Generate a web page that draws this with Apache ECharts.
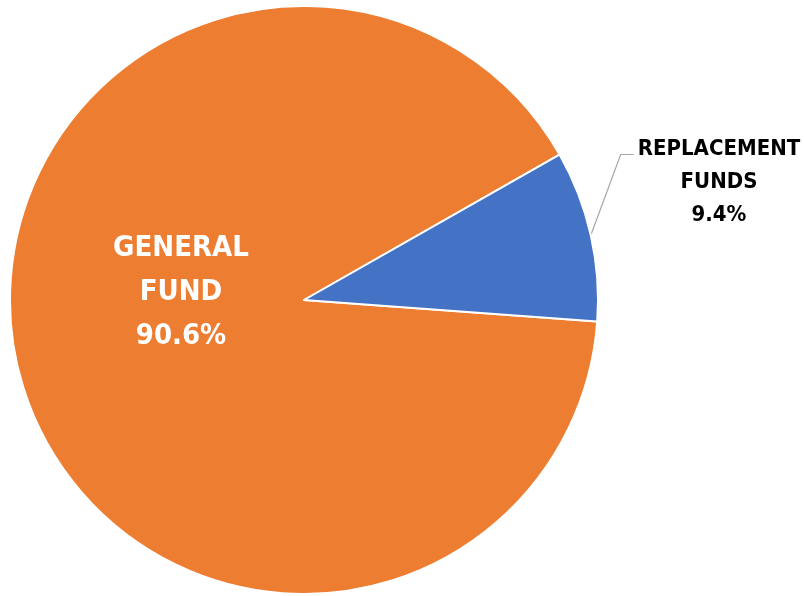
<!DOCTYPE html>
<html>
<head>
<meta charset="utf-8">
<script src="https://cdn.jsdelivr.net/npm/echarts@6/dist/echarts.min.js"></script>
<style>
  html, body { margin: 0; padding: 0; background: #ffffff; }
  #chart { width: 804px; height: 596px; }
</style>
</head>
<body>
<div id="chart"></div>
<script>
// Fund share of the total, in percent
const categories = ['GENERAL FUND', 'REPLACEMENT FUNDS'];
const shares = [90.6, 9.4];
const colors = ['#ED7D31', '#4472C4'];

const FONT = '"DejaVu Sans Condensed", "Liberation Sans Narrow", sans-serif';

const labelStyles = [
  { position: 'inside', color: '#ffffff', fontSize: 29, lineHeight: 44 },
  { position: 'outside', color: '#000000', fontSize: 22, lineHeight: 33 }
];

// Where each label block is centred
const labelCenters = [
  { x: 181, y: 292 },
  { x: 719, y: 182 }
];

const chart = echarts.init(document.getElementById('chart'), null, { renderer: 'canvas' });

const data = categories.map((name, i) => ({
  name: name,
  value: shares[i],
  itemStyle: { color: colors[i] },
  label: Object.assign({
    show: true,
    fontFamily: FONT,
    fontWeight: 'bold',
    align: 'center'
  }, labelStyles[i]),
  labelLine: {
    show: i === 1,
    lineStyle: { color: '#A6A6A6', width: 1.2 }
  }
}));

chart.setOption({
  backgroundColor: '#ffffff',
  animation: false,
  series: [{
    type: 'pie',
    center: [304, 300],
    radius: 294,
    startAngle: -4.2,
    clockwise: true,
    avoidLabelOverlap: false,
    itemStyle: { borderColor: '#ffffff', borderWidth: 2 },
    label: {
      formatter: p => p.name.replace(' ', '\n') + '\n' + p.value.toFixed(1) + '%'
    },
    labelLine: { length: 20, length2: 14 },
    emphasis: { disabled: true },
    labelLayout: function (params) {
      const c = labelCenters[params.dataIndex];
      const out = { x: c.x, y: c.y, align: 'center', verticalAlign: 'middle' };
      if (params.dataIndex === 1 && params.labelLinePoints) {
        const start = params.labelLinePoints[0];
        const w = params.labelRect.width;
        const h = params.labelRect.height;
        const left = c.x - w / 2;
        const lineY = c.y - h / 2 + 22;
        out.labelLinePoints = [start, [left - 17, lineY], [left - 4, lineY]];
      }
      return out;
    },
    data: data
  }]
});
</script>
</body>
</html>
